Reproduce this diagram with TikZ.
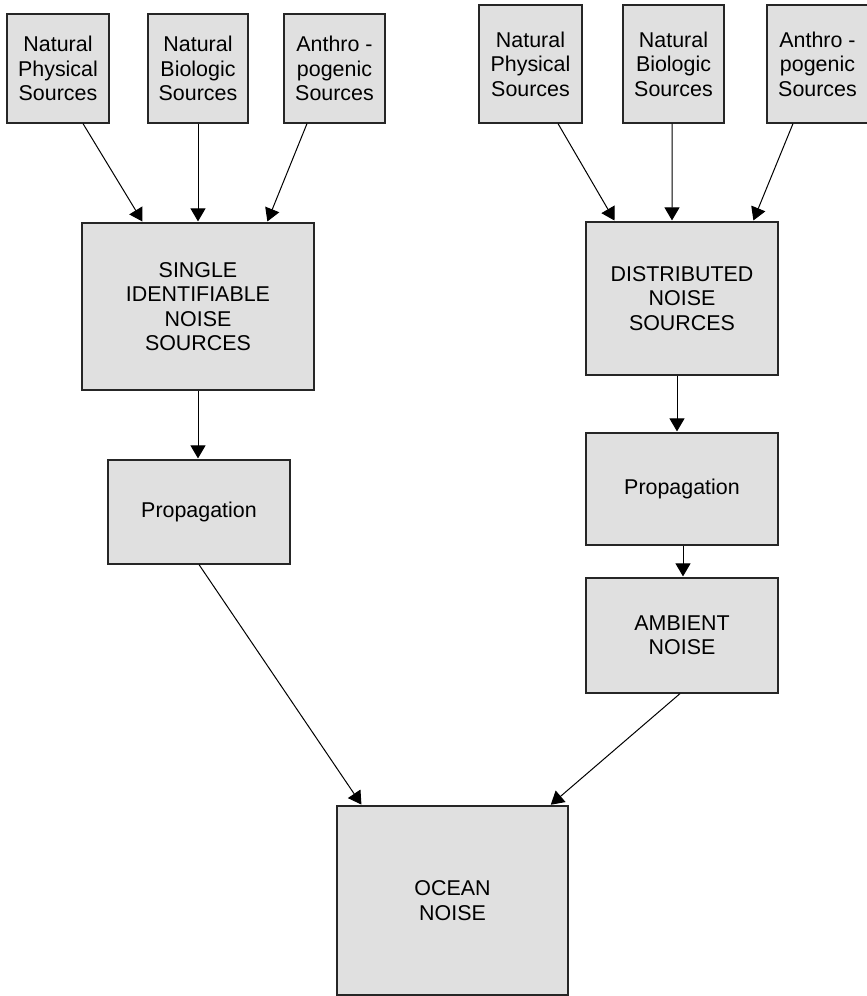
\documentclass[tikz,border=0pt]{standalone}
\usepackage{fontspec}
\setmainfont{Liberation Sans}
\usetikzlibrary{arrows.meta,calc}
\definecolor{boxfill}{HTML}{E0E0E0}
\definecolor{boxline}{HTML}{262626}
\begin{document}
\begin{tikzpicture}[x=1bp,y=-1bp,
  box/.style={draw=boxline,fill=boxfill,line width=1.2bp,inner sep=0pt,align=center,
    font=\fontsize{21.5}{24.5}\selectfont,text=black},
  conn/.style={draw=black,line width=1bp,-{Triangle[length=13bp,width=15bp]},shorten >=1bp}]
\useasboundingbox (0,0) rectangle (867,996);
% top left sources
\node[box,minimum width=102bp,minimum height=109bp] (b1) at (58,68.5) {Natural\\Physical\\Sources};
\node[box,minimum width=100bp,minimum height=109bp] (b2) at (198,68.5) {Natural\\Biologic\\Sources};
\node[box,minimum width=101bp,minimum height=109bp] (b3) at (334.5,68.5) {Anthro -\\pogenic\\Sources};
% top right sources
\node[box,minimum width=103bp,minimum height=118bp] (b4) at (530.5,64) {Natural\\Physical\\Sources};
\node[box,minimum width=101bp,minimum height=118bp] (b5) at (673.5,64) {Natural\\Biologic\\Sources};
\node[box,minimum width=101bp,minimum height=118bp] (b6) at (817.5,64) {Anthro -\\pogenic\\Sources};
% middle
\node[box,minimum width=232bp,minimum height=167bp] (single) at (198,306.5) {SINGLE\\IDENTIFIABLE\\NOISE\\SOURCES};
\node[box,minimum width=182bp,minimum height=104bp] (prop1) at (199,512) {Propagation};
\node[box,minimum width=192bp,minimum height=153bp] (dist) at (682,298.5) {DISTRIBUTED\\NOISE\\SOURCES};
\node[box,minimum width=192bp,minimum height=112bp] (prop2) at (682,489) {Propagation};
\node[box,minimum width=192bp,minimum height=115bp] (amb) at (682,635.5) {AMBIENT\\NOISE};
\node[box,minimum width=231bp,minimum height=189bp] (ocean) at (452.5,900.5) {OCEAN\\NOISE};
% connectors left
\draw[conn] ([xshift=25bp]b1.south) -- ([xshift=-55bp]single.north);
\draw[conn] (b2.south) -- (b2.south |- single.north);
\draw[conn] ([xshift=-27.5bp]b3.south) -- ([xshift=69bp]single.north);
\draw[conn] (single.south) -- (single.south |- prop1.north);
% connectors right
\draw[conn] ([xshift=27.5bp]b4.south) -- ([xshift=-67bp]dist.north);
\draw[conn] ([xshift=-1.5bp]b5.south) -- ([xshift=-10bp]dist.north);
\draw[conn] ([xshift=-24.5bp]b6.south) -- ([xshift=71bp]dist.north);
\draw[conn] ([xshift=-5bp]dist.south) -- ([xshift=-5bp]prop2.north);
\draw[conn] ([xshift=1bp]prop2.south) -- ([xshift=1bp]amb.north);
% to ocean
\draw[conn] (prop1.south) -- ([xshift=-90.5bp]ocean.north);
\draw[conn] ([xshift=-2bp]amb.south) -- ([xshift=97.5bp]ocean.north);
\end{tikzpicture}
\end{document}
